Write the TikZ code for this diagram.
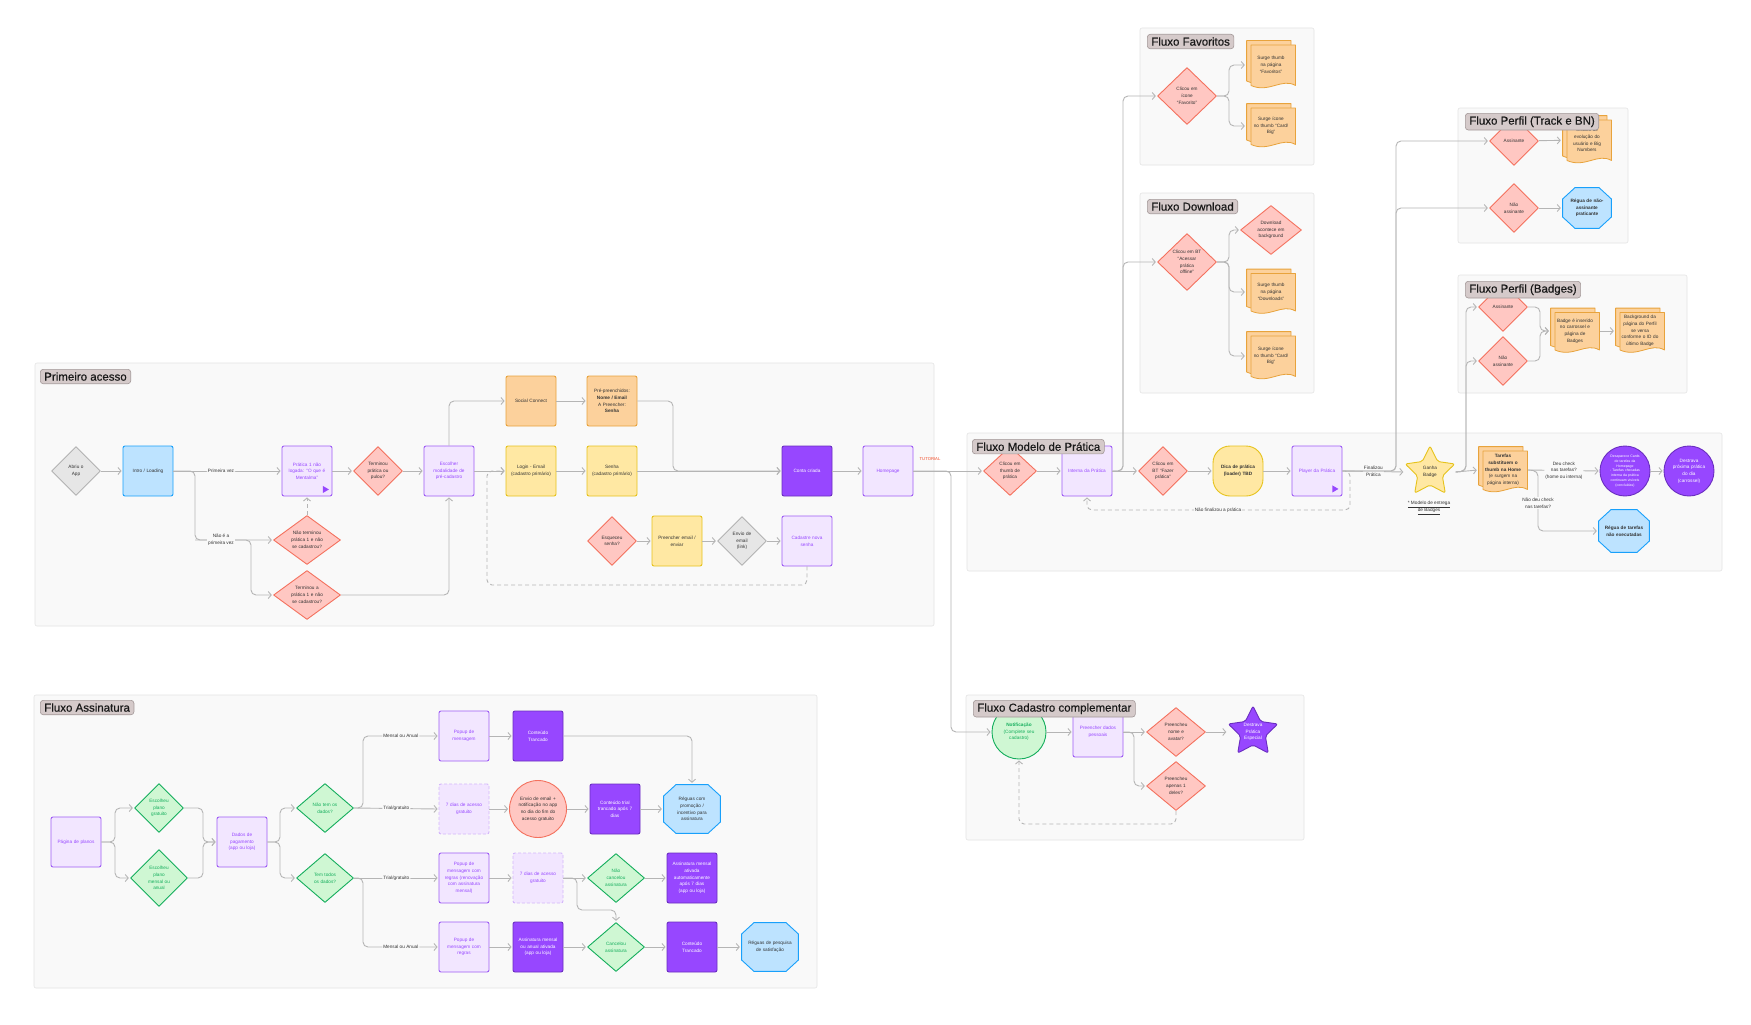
\documentclass[tikz,border=0pt]{standalone}
\usepackage{fontspec}
\setmainfont{Liberation Sans}
\newfontfamily\titlefont{Liberation Sans}[FakeBold=0.5]
\usetikzlibrary{arrows.meta,calc}
\definecolor{framefill}{HTML}{F9F9F9}
\definecolor{framebd}{HTML}{E4E4E4}
\definecolor{titlefill}{HTML}{D5CACA}
\definecolor{titlebd}{HTML}{A39898}
\definecolor{linec}{HTML}{B5B5B5}
\definecolor{redfill}{HTML}{FFC7C2}
\definecolor{redbd}{HTML}{F4715E}
\definecolor{greyfill}{HTML}{E6E6E6}
\definecolor{greybd}{HTML}{B3B3B3}
\definecolor{bluefill}{HTML}{BDE3FF}
\definecolor{bluebd}{HTML}{18A0FB}
\definecolor{lpfill}{HTML}{F2E6FF}
\definecolor{pbd}{HTML}{9E5CF5}
\definecolor{ptxt}{HTML}{9747FF}
\definecolor{dpfill}{HTML}{9747FF}
\definecolor{dpbd}{HTML}{6A2EC0}
\definecolor{orfill}{HTML}{FCD19C}
\definecolor{orbd}{HTML}{E8A33C}
\definecolor{yefill}{HTML}{FFE8A3}
\definecolor{yebd}{HTML}{E6C31C}
\definecolor{grfill}{HTML}{CFF7D3}
\definecolor{grbd}{HTML}{14AE5C}
\definecolor{dtxt}{HTML}{333333}
\definecolor{tutred}{HTML}{F24822}
\newcommand\docsheet[4]{({#1},{#2}) -- ({#3},{#2}) -- ({#3},{#4+3pt}) .. controls ({#3-0.3*(#3-(#1))},{#4+11pt}) and ({#1+0.4*(#3-(#1))},{#4-5pt}) .. ({#1},{#4+3pt}) -- cycle}
\newcommand\stp[2]{([shift={(#1:#2)}]path picture bounding box.center)}
\tikzset{
  every node/.style={font=\fontsize{4.7}{6.7}\selectfont},
  txt/.style={align=center, inner sep=0pt, text width=48pt},
  box/.style={txt, rectangle, rounded corners=2pt, line width=0.9pt, minimum width=50pt, minimum height=50pt},
  lpbox/.style={box, fill=lpfill, draw=pbd, text=ptxt},
  dashbox/.style={box, fill=lpfill, draw=pbd!45, dash pattern=on 3pt off 2pt, text=ptxt},
  dpbox/.style={box, fill=dpfill, draw=dpbd, text=white},
  orbox/.style={box, fill=orfill, draw=orbd, text=dtxt},
  yebox/.style={box, fill=yefill, draw=yebd, text=dtxt},
  blbox/.style={box, fill=bluefill, draw=bluebd, text=dtxt},
  dia/.style n args={4}{txt, text width=#3, text=#4, rectangle, draw=none, minimum width=50pt, minimum height=50pt,
    path picture={\path[fill=#1, draw=#2, line width=0.9pt, line join=round]
      ([yshift=-0.7pt]path picture bounding box.north) -- ([xshift=-0.7pt]path picture bounding box.east)
      -- ([yshift=0.7pt]path picture bounding box.south) -- ([xshift=0.7pt]path picture bounding box.west) -- cycle;}},
  reddia/.style={dia={redfill}{redbd}{46pt}{dtxt}},
  greydia/.style={dia={greyfill}{greybd}{46pt}{dtxt}},
  grdia/.style={dia={grfill}{grbd}{46pt}{grbd}},
  doc/.style={txt, text=dtxt, rectangle, draw=none, minimum width=50pt, minimum height=48pt,
    path picture={
      \path[fill=orfill, draw=orbd, line width=0.8pt, line join=round] let \p1=(path picture bounding box.north west), \p2=(path picture bounding box.south east) in \docsheet{\x1+0.6pt}{\y1-0.6pt}{\x2-5pt}{\y2+6pt};
      \path[fill=orfill, draw=orbd, line width=0.8pt, line join=round] let \p1=(path picture bounding box.north west), \p2=(path picture bounding box.south east) in \docsheet{\x1+5pt}{\y1-5pt}{\x2-0.6pt}{\y2+1.5pt};}},
  octa/.style={txt, text=dtxt, rectangle, draw=none,
    path picture={\path[fill=bluefill, draw=bluebd, line width=0.9pt] let \p1=(path picture bounding box.south west), \p2=(path picture bounding box.north east) in
      ({\x1+0.6pt},{\y1+12pt}) -- ({\x1+13pt},{\y1+0.6pt}) -- ({\x2-13pt},{\y1+0.6pt}) -- ({\x2-0.6pt},{\y1+12pt}) -- ({\x2-0.6pt},{\y2-12pt}) -- ({\x2-13pt},{\y2-0.6pt}) -- ({\x1+13pt},{\y2-0.6pt}) -- ({\x1+0.6pt},{\y2-12pt}) -- cycle;}},
  starshape/.style 2 args={txt, rectangle, draw=none, minimum width=51pt, minimum height=53pt,
    path picture={\path[fill=#1, draw=#2, line width=0.9pt, rounded corners=2pt, line join=round]
      \stp{-90}{26} -- \stp{-54}{13} -- \stp{-18}{26} -- \stp{18}{13} -- \stp{54}{26} -- \stp{90}{13} -- \stp{126}{26} -- \stp{162}{13} -- \stp{198}{26} -- \stp{234}{13} -- cycle;}},
  circ/.style={txt, circle, line width=0.9pt, minimum size=50pt, text width=34pt},
  conn/.style={draw=linec, line width=0.9pt, rounded corners=5pt, shorten >=1pt, -{Straight Barb[length=3pt,width=7pt]}},
  dconn/.style={conn, dash pattern=on 4pt off 3pt},
  lbl/.style={fill=framefill, inner sep=1pt, text=dtxt, align=center},
  flowframe/.style={fill=framefill, draw=framebd, line width=0.6pt, rounded corners=2pt},
  title/.style={anchor=north west, fill=titlefill, draw=titlebd, line width=0.6pt, rounded corners=3pt, font=\titlefont\fontsize{11.5}{13}\selectfont, text=black!90, inner xsep=4pt, inner ysep=3pt}
}
\begin{document}
\hyphenpenalty=10000 \exhyphenpenalty=10000
\begin{tikzpicture}[x=1pt,y=-1pt]
\fill[white] (0,0) rectangle (1751,1025);
\useasboundingbox (0,0) rectangle (1751,1025);
% frames
\draw[flowframe] (35,363) rectangle (934,626);
\draw[flowframe] (967,433) rectangle (1722,571);
\draw[flowframe] (1140,28) rectangle (1314,165);
\draw[flowframe] (1140,193) rectangle (1314,393);
\draw[flowframe] (1458,108) rectangle (1628,243);
\draw[flowframe] (1458,275) rectangle (1687,393);
\draw[flowframe] (966,695) rectangle (1304,840);
\draw[flowframe] (34,695) rectangle (817,988);

% ---------- Primeiro acesso
\node[greydia] (abriu) at (76,471) {Abriu o\\App};
\node[blbox] (intro) at (148,471) {Intro / Loading};
\node[lpbox] (p1) at (307,471) {Prática 1 não\\logada: “O que é\\Mentalma”};
\node[reddia] (termpul) at (378,471) {Terminou\\prática ou\\pulou?};
\node[lpbox] (escolher) at (449,471) {Escolher\\modalidade de\\pré-cadastro};
\node[reddia, minimum width=68pt] (naoterm) at (307,540) {Não terminou\\prática 1 e não\\se cadastrou?};
\node[reddia, minimum width=68pt] (termnao) at (307,595) {Terminou a\\prática 1 e não\\se cadastrou?};
\node[orbox] (social) at (531,401) {Social Connect};
\node[orbox] (prepre) at (612,401) {Pré-preenchidos:\\\textbf{Nome / Email}\\A Preencher:\\\textbf{Senha}};
\node[yebox] (login) at (531,471) {Login - Email\\(cadastro primário)};
\node[yebox] (senha) at (612,471) {Senha\\(cadastro primário)};
\node[dpbox] (conta) at (807,471) {Conta criada};
\node[lpbox] (home) at (888,471) {Homepage};
\node[reddia] (esq) at (612,541) {Esqueceu\\senha?};
\node[yebox] (preench) at (677,541) {Preencher email /\\enviar};
\node[greydia] (envio) at (742,541) {Envio de\\email\\(link)};
\node[lpbox] (nova) at (807,541) {Cadastre nova\\senha};
\fill[ptxt] ([shift={(-9.5,-10.5)}]p1.south east) -- ([shift={(-9.5,-3.5)}]p1.south east) -- ([shift={(-3.5,-7)}]p1.south east) -- cycle;

\draw[conn] (abriu.east) -- (intro.west);
\draw[conn] (intro.east) -- node[lbl, pos=0.44] (lblprim) {Primeira vez} (p1.west);
\draw[conn] (intro.east) -- (195,471) -- (195,540) -- (naoterm.west);
\draw[conn] (195,540) -- (251,540) -- (251,595) -- (termnao.west);
\node[lbl] (lblnao) at (221,540) {Não é a\\primeira vez};
\draw[conn] (p1) -- (termpul);
\draw[conn] (termpul) -- (escolher);
\draw[dconn] (naoterm.north) -- (p1.south);
\draw[conn] (termnao.east) -| (escolher.south);
\draw[conn] (escolher.north) |- (social.west);
\draw[conn] (escolher.east) -- (login.west);
\draw[conn] (social) -- (prepre);
\draw[conn] (login) -- (senha);
\draw[conn] (prepre.east) -- (673,401) -- (673,471) -- (conta.west);
\draw[conn] (senha.east) -- (conta.west);
\draw[conn] (conta) -- (home);
\draw[conn] (esq) -- (preench);
\draw[conn] (preench) -- (envio);
\draw[conn] (envio) -- (nova);
\draw[dconn] (nova.south) -- (807,585) -- (487,585) -- (487,471) -- (login.west);

% ---------- Modelo de Pratica
\node[reddia, minimum width=54pt] (thumb) at (1010,471) {Clicou em\\thumb de\\prática};
\node[lpbox] (interna) at (1087,471) {Interna da Prática};
\node[reddia] (fazer) at (1163,471) {Clicou em\\BT “Fazer\\prática”};
\node[yebox, rounded corners=17pt] (dica) at (1238,471) {\textbf{Dica de prática}\\\textbf{(loader) TBD}};
\node[lpbox] (player) at (1317,471) {Player da Prática};
\fill[ptxt] ([shift={(-10,-11)}]player.south east) -- ([shift={(-10,-4)}]player.south east) -- ([shift={(-4,-7.5)}]player.south east) -- cycle;
\node[starshape={yefill}{yebd}, text=dtxt] (badge) at (1430,472) {Ganha\\Badge};
\node[text=dtxt, align=center, font=\fontsize{4.7}{7.5}\selectfont] (modbadge) at (1429,508) {\underline{* Modelo de entrega}\\\underline{de Badges}};
\node[doc] (tarefas) at (1503,470) {\textbf{Tarefas}\\\textbf{substituem o}\\\textbf{thumb na Home}\\(e surgem na\\página interna)};
\node[circ, fill=dpfill, draw=dpbd, text=white, font=\fontsize{3.5}{4.8}\selectfont, text width=32pt] (desap) at (1625,471) {Desaparece Cards\\de tarefas da\\Homepage\\- Tarefas checadas\\interna da prática\\continuam visíveis\\(concluídas)};
\node[circ, fill=dpfill, draw=dpbd, text=white] (destrava) at (1689,471) {Destrava\\próxima prática\\do dia\\(carrossel)};
\node[octa, minimum width=52pt, minimum height=44pt] (rtarefas) at (1624,531) {\textbf{Régua de tarefas}\\\textbf{não executadas}};

\draw[conn] (thumb) -- (interna);
\draw[conn] (interna.east) -- (fazer.west);
\draw[conn] (fazer) -- (dica);
\draw[conn] (dica) -- (player);
\draw[dconn] (player.east) -- (1350,471) -- (1350,510) -- (1087,510) -- (interna.south);
\node[lbl] (lblnaofin) at (1218,510) {Não finalizou a prática};
\draw[conn] (player.east) -- node[lbl] (lblfin) {Finalizou\\Prática} (badge.west);
\draw[conn] (badge.east) -- (tarefas.west);
\draw[conn] (tarefas.east) -- (1538,471) |- (rtarefas.west);
\node[lbl] (lblnaodeu) at (1538,503) {Não deu check\\nas tarefas?};
\draw[conn] (tarefas.east) -- node[lbl] (lbldeu) {Deu check\\nas tarefas?\\(home ou interna)} (desap.west);
\draw[conn] (desap) -- (destrava);

% ---------- Favoritos
\node[reddia, minimum width=60pt, minimum height=58pt] (clicfav) at (1187,96) {Clicou em\\ícone\\“Favorito”};
\node[doc, minimum height=50pt] (favthumb) at (1271,65) {Surge thumb\\na página\\“Favoritos”};
\node[doc, minimum height=46pt] (favicone) at (1271,126) {Surge ícone\\no thumb “Card/\\Big”};
\draw[conn] (clicfav.east) -- (1229,96) |- (favthumb.west);
\draw[conn] (clicfav.east) -- (1229,96) |- (favicone.west);

% ---------- Download
\node[reddia, minimum width=60pt, minimum height=58pt] (clicdl) at (1187,262) {Clicou em BT\\“Acessar\\prática\\offline”};
\node[reddia, minimum width=62pt] (dlbg) at (1271,230) {Download\\acontece em\\background};
\node[doc, minimum height=47pt] (dlthumb) at (1271,292) {Surge thumb\\na página\\“Downloads”};
\node[doc, minimum height=50pt] (dlicone) at (1271,356) {Surge ícone\\no thumb “Card/\\Big”};
\draw[conn] (clicdl.east) -- (1229,262) |- (dlbg.west);
\draw[conn] (clicdl.east) -- (1229,262) |- (dlthumb.west);
\draw[conn] (clicdl.east) -- (1229,262) |- (dlicone.west);

% ---------- Perfil Track
\node[reddia] (tassin) at (1514,141) {Assinante};
\node[doc, minimum height=50pt] (track) at (1587,140) {Gráfico de\\evolução do\\usuário e Big\\Numbers};
\node[reddia] (tnao) at (1514,208) {Não\\assinante};
\node[octa, minimum width=50pt, minimum height=42pt] (rnao) at (1587,208) {\textbf{Régua de não-}\\\textbf{assinante}\\\textbf{praticante}};
\draw[conn] (tassin) -- (track);
\draw[conn] (tnao) -- (rnao);

% ---------- Perfil Badges
\node[reddia] (bassin) at (1503,307) {Assinante};
\node[reddia] (bnao) at (1503,361) {Não\\assinante};
\node[doc, minimum height=47pt] (bdoc) at (1575,331) {Badge é inserido\\no carrossel e\\página de\\Badges};
\node[doc, minimum height=47pt] (bgdoc) at (1640,331) {Background da\\página do Perfil\\se versa\\conforme o ID do\\último Badge};
\draw[conn] (bassin.east) -- (1540,307) |- (bdoc.west);
\draw[conn] (bnao.east) -- (1540,361) |- (bdoc.west);
\draw[conn] (bdoc) -- (bgdoc);

% ---------- Cadastro complementar
\node[circ, minimum size=54pt, fill=grfill, draw=grbd, text=grbd, text width=38pt] (notif) at (1019,732) {\textbf{Notificação}\\(Complete seu\\cadastro)};
\node[lpbox] (dadosp) at (1098,732) {Preencher dados\\pessoais};
\node[reddia, minimum width=60pt] (pnome) at (1176,732) {Preencheu\\nome e\\avatar?};
\node[reddia, minimum width=60pt] (papenas) at (1176,786) {Preencheu\\apenas 1\\deles?};
\node[starshape={dpfill}{dpbd}, text=white] (estrela) at (1253,732) {Destrava\\Prática\\Especial};
\draw[conn] (notif) -- (dadosp);
\draw[conn] (dadosp.east) -- (pnome.west);
\draw[conn] (dadosp.east) -- (1134,732) |- (papenas.west);
\draw[conn] (pnome) -- (estrela);
\draw[dconn] (papenas.south) -- (1176,824) -| (notif.south);

% ---------- cross-flow connectors
\draw[conn] (home.east) -- (thumb.west);
\node[text=tutred, font=\fontsize{4.2}{5}\selectfont] (tut) at (930,459) {TUTORIAL};
\draw[conn] (home.east) -- (951,471) |- (notif.west);
\draw[conn] (interna.east) -- (1123,471) |- (clicfav.west);
\draw[conn] (interna.east) -- (1123,471) |- (clicdl.west);
\draw[conn] (player.east) -- (1396,471) |- (tassin.west);
\draw[conn] (player.east) -- (1396,471) |- (tnao.west);
\draw[conn] (badge.east) -- (1466,471) |- (bassin.west);
\draw[conn] (badge.east) -- (1466,471) |- (bnao.west);

% ---------- Assinatura
\node[lpbox] (planos) at (76,842) {Página de planos};
\node[grdia] (gratis) at (159,808) {Escolheu\\plano\\gratuito};
\node[grdia, minimum width=58pt, minimum height=58pt] (mensal) at (159,878) {Escolheu\\plano\\mensal ou\\anual};
\node[lpbox] (dadospag) at (242,842) {Dados de\\pagamento\\(app ou loja)};
\node[grdia, minimum width=58pt] (naotem) at (325,808) {Não tem os\\dados?};
\node[grdia, minimum width=58pt] (temtodos) at (325,878) {Tem todos\\os dados?};
\node[lpbox] (popup1) at (464,736) {Popup de\\mensagem};
\node[dpbox] (tranc1) at (538,736) {Conteúdo\\Trancado};
\node[dashbox] (sete1) at (464,809) {7 dias de acesso\\gratuito};
\node[circ, minimum size=57pt, fill=redfill, draw=redbd, text=dtxt, text width=44pt] (envemail) at (538,809) {Envio de email +\\notificação no app\\no dia do fim do\\acesso gratuito};
\node[dpbox] (trialtr) at (615,809) {Conteúdo trial\\trancado após 7\\dias};
\node[octa, minimum width=58pt, minimum height=50pt] (rpromo) at (692,809) {Réguas com\\promoção /\\incentivo para\\assinatura};
\node[lpbox] (popup2) at (464,878) {Popup de\\mensagem com\\regras (renovação\\com assinatura\\mensal)};
\node[dashbox] (sete2) at (538,878) {7 dias de acesso\\gratuito};
\node[grdia, minimum width=58pt] (naocanc) at (616,878) {Não\\cancelou\\assinatura};
\node[dpbox] (assauto) at (692,878) {Assinatura mensal\\ativada\\automaticamente\\após 7 dias\\(app ou loja)};
\node[lpbox] (popup3) at (464,947) {Popup de\\mensagem com\\regras};
\node[dpbox] (assativ) at (538,947) {Assinatura mensal\\ou anual ativada\\(app ou loja)};
\node[grdia, minimum width=58pt] (canc) at (616,947) {Cancelou\\assinatura};
\node[dpbox] (tranc2) at (692,947) {Conteúdo\\Trancado};
\node[octa, minimum width=58pt, minimum height=50pt] (rpesq) at (770,947) {Réguas de pesquisa\\de satisfação};

\draw[conn] (planos.east) -- (115,842) |- (gratis.west);
\draw[conn] (planos.east) -- (115,842) |- (mensal.west);
\draw[conn] (gratis.east) -- (203,808) |- (dadospag.west);
\draw[conn] (mensal.east) -- (203,878) |- (dadospag.west);
\draw[conn] (dadospag.east) -- (280,842) |- (naotem.west);
\draw[conn] (dadospag.east) -- (280,842) |- (temtodos.west);
\draw[conn] (naotem.east) -- (363,808) |- node[lbl, pos=0.75] (lblm1) {Mensal ou Anual} (popup1.west);
\draw[conn] (naotem.east) -- node[lbl] (lblt1) {Trial/gratuito} (sete1.west);
\draw[conn] (temtodos.east) -- node[lbl] (lblt2) {Trial/gratuito} (popup2.west);
\draw[conn] (temtodos.east) -- (363,878) |- node[lbl, pos=0.75] (lblm2) {Mensal ou Anual} (popup3.west);
\draw[conn] (popup1) -- (tranc1);
\draw[conn] (tranc1.east) -| (rpromo.north);
\draw[conn] (sete1) -- (envemail);
\draw[conn] (envemail) -- (trialtr);
\draw[conn] (trialtr) -- (rpromo);
\draw[conn] (popup2) -- (sete2);
\draw[conn] (sete2) -- (naocanc);
\draw[conn] (naocanc) -- (assauto);
\draw[conn] (sete2.east) -- (577,878) -- (577,910) -| (canc.north);
\draw[conn] (popup3) -- (assativ);
\draw[conn] (assativ) -- (canc);
\draw[conn] (canc) -- (tranc2);
\draw[conn] (tranc2) -- (rpesq);

% ---------- titles
\node[title] (tprim) at (40,369) {Primeiro acesso};
\node[title] (tmod) at (972,439) {Fluxo Modelo de Prática};
\node[title] (tfav) at (1147,34) {Fluxo Favoritos};
\node[title] (tdl) at (1147,199) {Fluxo Download};
\node[title] (ttrack) at (1465,113) {Fluxo Perfil (Track e BN)};
\node[title] (tbadge) at (1465,281) {Fluxo Perfil (Badges)};
\node[title] (tcad) at (973,700) {Fluxo Cadastro complementar};
\node[title] (tass) at (40,700) {Fluxo Assinatura};
\end{tikzpicture}
\end{document}
